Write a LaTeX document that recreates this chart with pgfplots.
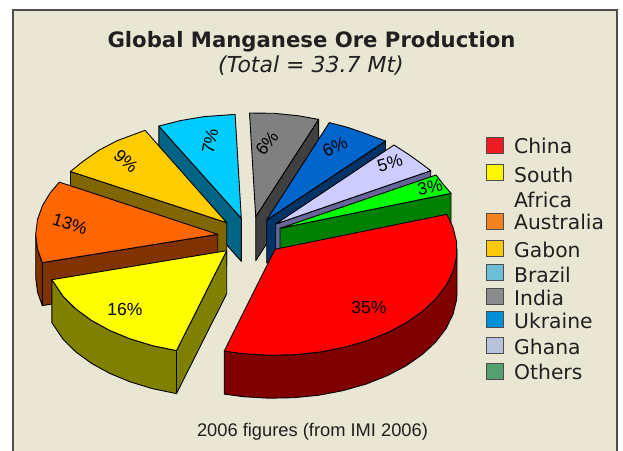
\documentclass[border=0pt]{standalone}
\usepackage{pgfplots}
\usepackage{fontspec}
\setmainfont{Liberation Sans}
\newfontfamily\dv{DejaVu Sans}
\pgfplotsset{compat=1.18}
\definecolor{bg}{HTML}{E9E6D4}
\definecolor{ink}{HTML}{231F20}
\definecolor{cBrT}{HTML}{00CCFF}\definecolor{cBrW}{HTML}{006585}
\definecolor{cGaT}{HTML}{FFCC00}\definecolor{cGaW}{HTML}{806600}
\definecolor{cAuT}{HTML}{FF6600}\definecolor{cAuW}{HTML}{803300}
\definecolor{cInT}{HTML}{808080}\definecolor{cInW}{HTML}{404040}
\definecolor{cUkT}{HTML}{0066CC}\definecolor{cUkW}{HTML}{003366}
\definecolor{cGhT}{HTML}{CCCCFF}\definecolor{cGhW}{HTML}{666699}
\definecolor{cOtT}{HTML}{00FF00}\definecolor{cOtW}{HTML}{008000}
\definecolor{cChT}{HTML}{FF0000}\definecolor{cChW}{HTML}{800000}
\definecolor{cSaT}{HTML}{FFFF00}\definecolor{cSaW}{HTML}{808000}
\definecolor{l1}{HTML}{ED1C24}\definecolor{l2}{HTML}{FFF700}\definecolor{l3}{HTML}{F58220}
\definecolor{l4}{HTML}{FFC90E}\definecolor{l5}{HTML}{6DBFD6}\definecolor{l6}{HTML}{8C8C8E}
\definecolor{l7}{HTML}{0090D8}\definecolor{l8}{HTML}{B8C2DA}\definecolor{l9}{HTML}{56A070}
\tikzset{
  lab/.style={font=\fontsize{17.5}{17.5}\selectfont,text=black,inner sep=0pt},
  leg/.style={font=\dv\fontsize{20.3}{20.3}\selectfont,text=ink,anchor=west,inner sep=0pt},
}
\pgfplotsset{
  wedge/.style={draw=black,line width=0.9pt,line join=round,fill=#1},
  sw/.style={draw=black!70,line width=1pt,fill=#1},
}
\begin{document}
\begin{tikzpicture}
\useasboundingbox (0,0) rectangle (623pt,450pt);
\begin{axis}[
  anchor=south west,at={(0,0)},
  scale only axis,width=623pt,height=450pt,
  xmin=0,xmax=623,ymin=0,ymax=450,y dir=reverse,
  hide axis,clip=true,
]
% panel
\addplot[draw=ink!80,line width=1.2pt,fill=bg] coordinates {(13,470)(13,10)(617,10)(617,470)} --cycle;
% Brazil 7%
\addplot[wedge=cBrW] coordinates {(158.8,126.1)(241.3,218.3)(241.3,261.3)(158.8,169.1)} --cycle;
\addplot[wedge=cBrT] coordinates {(241.3,218.3)(158.8,126.1)(180.4,120.6)(204.3,116.6)(235.1,114.4)} --cycle;
% Gabon 9%
\addplot[wedge=cGaW] coordinates {(70.5,171.5)(226.7,222.7)(226.7,265.7)(70.5,214.5)} --cycle;
\addplot[wedge=cGaT] coordinates {(226.7,222.7)(70.5,171.5)(82.7,161.6)(98.7,150.4)(117.1,140.7)(145.1,130.3)} --cycle;
% Australia 13%
\addplot[wedge=cAuW] coordinates {(42.3,262.6)(217.7,234.3)(217.7,277.3)(42.3,305.6)} --cycle;
\addplot[wedge=cAuW] coordinates {(35.7,234.3)(37.5,249.1)(42.3,262.6)(42.3,305.6)(37.5,292.1)(35.7,277.3)} --cycle;
\addplot[wedge=cAuT] coordinates {(217.7,234.3)(42.3,262.6)(37.5,249.1)(35.7,234.3)(37.5,219.5)(42.7,205.1)(50.2,192.9)(59.3,182.1)} --cycle;
% India 6%
\addplot[wedge=cInW] coordinates {(318.6,119.4)(255.7,216.7)(255.7,260.7)(318.6,163.4)} --cycle;
\addplot[wedge=cInT] coordinates {(255.7,216.7)(249.5,113)(274.3,113.3)(298.8,115.8)(318.6,119.4)} --cycle;
% Ukraine 6%
\addplot[wedge=cUkW] coordinates {(385.5,141)(266.7,220)(266.7,263)(385.5,184)} --cycle;
\addplot[wedge=cUkT] coordinates {(266.7,220)(329.3,122.6)(347.5,127.3)(366.2,133.8)(385.5,141)} --cycle;
% Ghana 5%
\addplot[wedge=cGhW] coordinates {(430.7,170.7)(275.7,224)(275.7,267)(430.7,213.7)} --cycle;
\addplot[wedge=cGhT] coordinates {(275.7,224)(394,145)(408.5,154.4)(420.5,162.9)(430.7,170.7)} --cycle;
% Others 3%
\addplot[wedge=cOtW] coordinates {(451,193.3)(280,228.3)(280,271)(451,236)} --cycle;
\addplot[wedge=cOtT] coordinates {(280,228.3)(436,175)(443.2,184.3)(451,193.3)} --cycle;
% China 35%
\addplot[wedge=cChW] coordinates {(457,249.3)(456.6,256.7)(453,271.3)(446,285.6)(435.7,299.1)(422.2,311.6)(405.9,322.9)(387.1,332.8)(366,341.1)(343.2,347.6)(319,352.2)(294,354.7)(268.6,355.2)(243.4,353.7)(224.2,351.1)(224.2,394.1)(243.4,396.7)(268.6,398.2)(294,397.7)(319,395.2)(343.2,390.6)(366,384.1)(387.1,375.8)(405.9,365.9)(422.2,354.6)(435.7,342.1)(446,328.6)(453,314.3)(456.6,299.7)(457,292.3)} --cycle;
\addplot[wedge=cChT] coordinates {(275,249.3)(446.8,214.3)(453,227.3)(456.6,241.9)(456.6,256.7)(453,271.3)(446,285.6)(435.7,299.1)(422.2,311.6)(405.9,322.9)(387.1,332.8)(366,341.1)(343.2,347.6)(319,352.2)(294,354.7)(268.6,355.2)(243.4,353.7)(224.2,351.1)} --cycle;
% South Africa 16%
\addplot[wedge=cSaW] coordinates {(226.7,250.7)(176.5,350.6)(176.5,393.6)(226.7,293.7)} --cycle;
\addplot[wedge=cSaW] coordinates {(176.5,350.6)(152.7,345.7)(130.3,338.9)(109.7,330.4)(91.4,320.3)(75.8,308.9)(63.1,296.3)(51.9,279.7)(51.9,322.7)(63.1,339.3)(75.8,351.9)(91.4,363.3)(109.7,373.4)(130.3,381.9)(152.7,388.7)(176.5,393.6)} --cycle;
\addplot[wedge=cSaT] coordinates {(226.7,250.7)(176.5,350.6)(152.7,345.7)(130.3,338.9)(109.7,330.4)(91.4,320.3)(75.8,308.9)(63.1,296.3)(51.9,279.7)} --cycle;
% legend swatches
\addplot[sw=l1] coordinates {(486,137.5)(503,137.5)(503,153.5)(486,153.5)} --cycle;
\addplot[sw=l2] coordinates {(486,164.5)(503,164.5)(503,180.5)(486,180.5)} --cycle;
\addplot[sw=l3] coordinates {(486,213)(503,213)(503,229)(486,229)} --cycle;
\addplot[sw=l4] coordinates {(486,240)(503,240)(503,256)(486,256)} --cycle;
\addplot[sw=l5] coordinates {(486,264)(503,264)(503,280)(486,280)} --cycle;
\addplot[sw=l6] coordinates {(486,288)(503,288)(503,304)(486,304)} --cycle;
\addplot[sw=l7] coordinates {(486,311)(503,311)(503,327)(486,327)} --cycle;
\addplot[sw=l8] coordinates {(486,337)(503,337)(503,353)(486,353)} --cycle;
\addplot[sw=l9] coordinates {(486,363)(503,363)(503,379)(486,379)} --cycle;
% legend text
\node[leg] at (axis cs:514,146) {China};
\node[leg] at (axis cs:514,175) {South};
\node[leg] at (axis cs:514,200) {Africa};
\node[leg] at (axis cs:514,222) {Australia};
\node[leg] at (axis cs:514,249.5) {Gabon};
\node[leg] at (axis cs:514,275) {Brazil};
\node[leg] at (axis cs:514,298) {India};
\node[leg] at (axis cs:514,321) {Ukraine};
\node[leg] at (axis cs:514,347) {Ghana};
\node[leg] at (axis cs:514,372) {Others};
% titles
\node[font=\dv\bfseries\fontsize{21.2}{21.2}\selectfont,text=ink,inner sep=0pt] at (axis cs:311.5,41.5) {Global Manganese Ore Production};
\node[font=\dv\itshape\fontsize{22}{22}\selectfont,text=ink,inner sep=0pt] at (axis cs:311,66) {(Total = 33.7 Mt)};
\node[font=\fontsize{18.3}{18.3}\selectfont,text=ink,inner sep=0pt] at (axis cs:312.5,431.5) {2006 figures (from IMI 2006)};
% percent labels
\node[lab] at (axis cs:369,307) {35\%};
\node[lab] at (axis cs:125,309) {16\%};
\node[lab,rotate=-17] at (axis cs:70,224) {13\%};
\node[lab,rotate=-42] at (axis cs:126,161) {9\%};
\node[lab,rotate=78] at (axis cs:210,141) {7\%};
\node[lab,rotate=52] at (axis cs:267,143) {6\%};
\node[lab,rotate=25] at (axis cs:335,147) {6\%};
\node[lab,rotate=16] at (axis cs:390,163) {5\%};
\node[lab,rotate=10] at (axis cs:430,187) {3\%};
\end{axis}
\end{tikzpicture}
\end{document}
